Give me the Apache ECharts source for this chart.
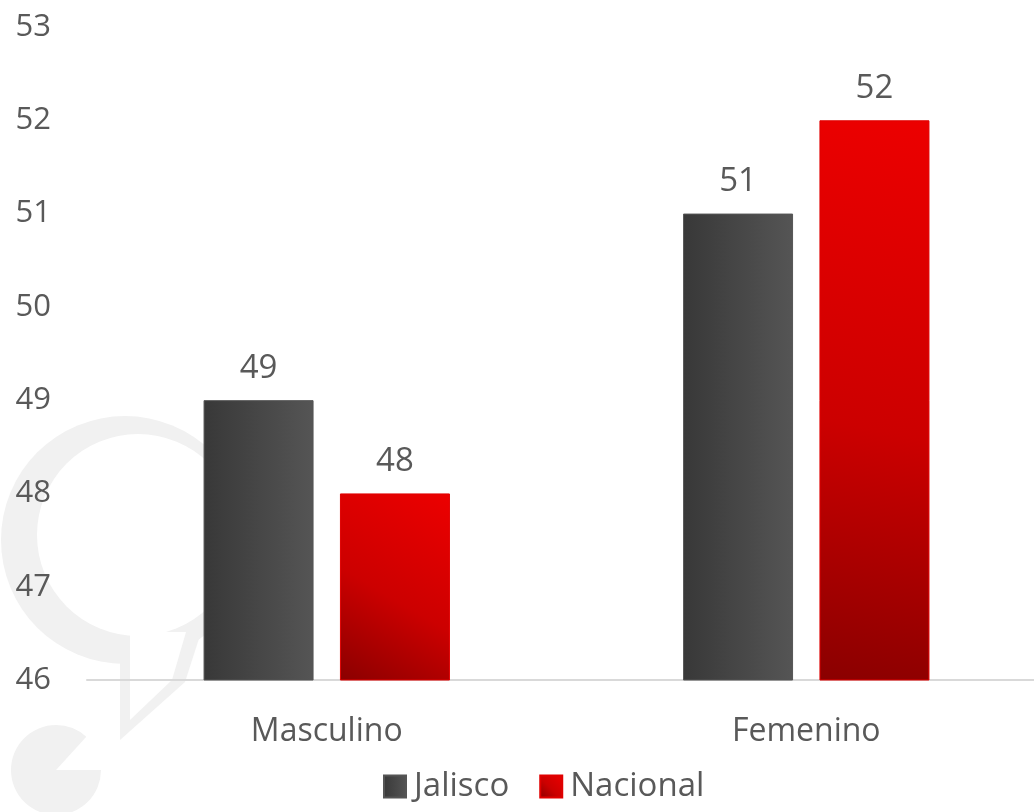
<!DOCTYPE html>
<html>
<head>
<meta charset="utf-8">
<script src="https://cdn.jsdelivr.net/npm/echarts@6/dist/echarts.min.js"></script>
<style>html,body{margin:0;padding:0;background:#fff;overflow:hidden;width:1034px;height:812px}#c{width:1046px;height:812px}</style>
</head>
<body>
<div id="c"></div>
<script>
const categories = ['Masculino', 'Femenino'];
const jalisco = [49, 51];
const nacional = [48, 52];
const seriesNames = ['Jalisco', 'Nacional'];
const yTicks = [46, 47, 48, 49, 50, 51, 52, 53];

const chart = echarts.init(document.getElementById('c'));
const font = '"Open Sans", sans-serif';
const txt = '#595959';
const wm = '#f1f1f1';

const jalGrad = new echarts.graphic.LinearGradient(0, 0, 1, 0, [
  {offset: 0, color: '#383838'}, {offset: 1, color: '#555555'}
]);
const nacGrad = new echarts.graphic.LinearGradient(1, 0, 0, 1, [
  {offset: 0, color: '#ec0000'}, {offset: 0.55, color: '#cc0000'}, {offset: 1, color: '#8a0000'}
]);

chart.setOption({
  animation: false,
  backgroundColor: '#ffffff',
  textStyle: {fontFamily: font},
  graphic: [
    {type: 'circle', z: -10, silent: true, shape: {cx: 125, cy: 540, r: 124}, style: {fill: wm}},
    {type: 'circle', z: -9, silent: true, shape: {cx: 138, cy: 535, r: 101}, style: {fill: '#ffffff'}},
    {type: 'polygon', z: -10, silent: true, shape: {points: [[120, 640], [120, 740], [185, 682], [205, 620]]}, style: {fill: wm}},
    {type: 'polygon', z: -9, silent: true, shape: {points: [[130, 632], [130, 720], [172, 680], [186, 632]]}, style: {fill: '#ffffff'}},
    {type: 'sector', z: -10, silent: true, shape: {cx: 56, cy: 770, r: 45, r0: 0, startAngle: 0, endAngle: 5.45, clockwise: true}, style: {fill: wm}}
  ],
  grid: {left: 87, top: 27, right: 0, bottom: 132, containLabel: false},
  legend: {
    bottom: 4, left: 378,
    itemWidth: 22, itemHeight: 22, itemGap: 30,
    icon: 'rect',
    textStyle: {fontFamily: font, fontSize: 33, color: txt, padding: [0, 0, 0, 3]},
    data: seriesNames
  },
  xAxis: {
    type: 'category', data: categories,
    axisLine: {lineStyle: {color: '#d9d9d9', width: 2}},
    axisTick: {show: false},
    axisLabel: {fontFamily: font, fontSize: 32, color: txt, margin: 36}
  },
  yAxis: {
    type: 'value', min: yTicks[0], max: yTicks[yTicks.length - 1], interval: 1,
    axisLine: {show: false}, axisTick: {show: false}, splitLine: {show: false},
    axisLabel: {fontFamily: font, fontSize: 31, color: txt, margin: 36}
  },
  series: [
    {
      name: seriesNames[0], type: 'bar', data: jalisco, barWidth: 110, barGap: '24%',
      itemStyle: {color: jalGrad, borderColor: '#555555', borderWidth: 1},
      label: {show: true, position: 'top', distance: 15, fontFamily: font, fontSize: 33, color: txt}
    },
    {
      name: seriesNames[1], type: 'bar', data: nacional, barWidth: 110, barGap: '24%',
      itemStyle: {color: nacGrad, borderColor: '#e00000', borderWidth: 1},
      label: {show: true, position: 'top', distance: 15, fontFamily: font, fontSize: 33, color: txt}
    }
  ]
});
</script>
</body>
</html>
